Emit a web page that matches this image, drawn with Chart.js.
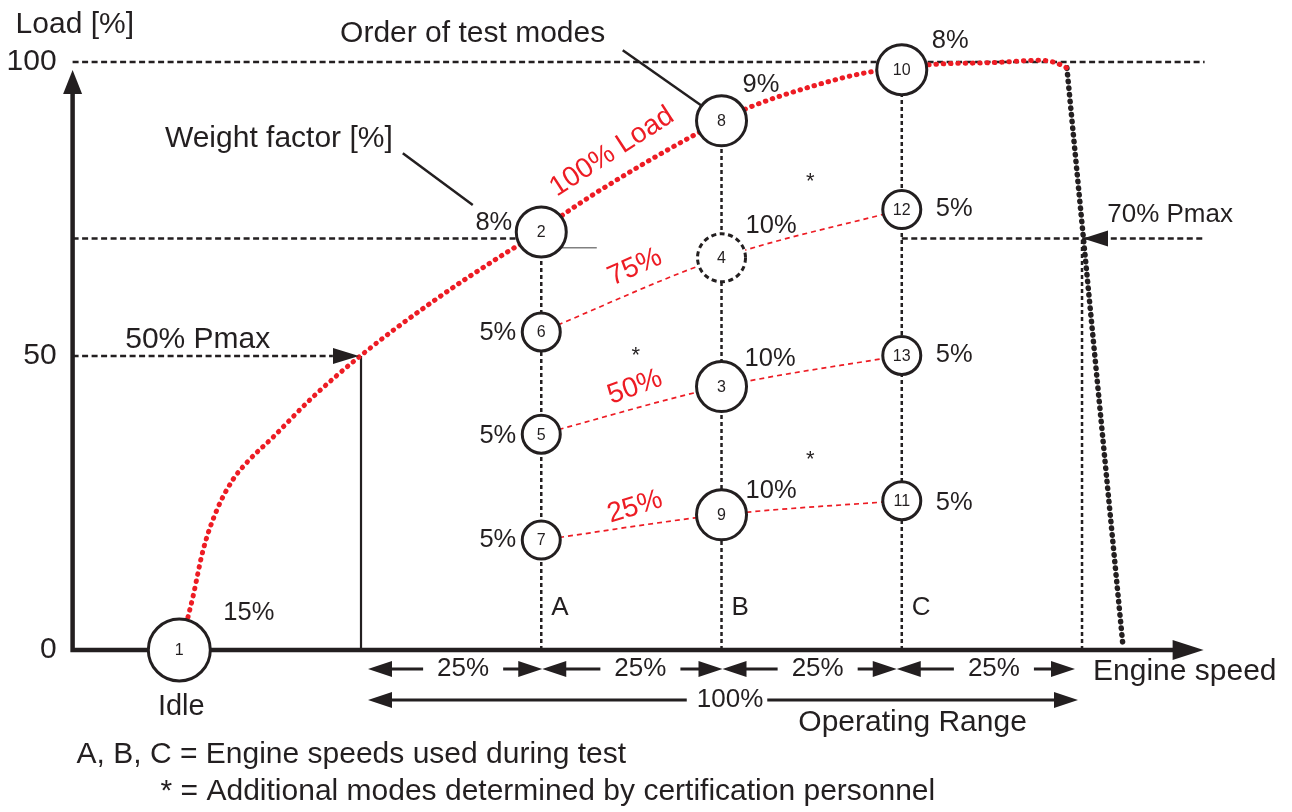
<!DOCTYPE html>
<html><head><meta charset="utf-8">
<script src="https://cdn.jsdelivr.net/npm/chart.js@4.4.0/dist/chart.umd.min.js"></script>
<style>html,body{margin:0;padding:0;background:#fff;}#wrap{width:1292px;height:812px;}</style>
</head><body><div id="wrap"><canvas id="c" width="1292" height="812"></canvas></div>
<script>
// ---------------- data (engine speed in % of operating range, load in %) ----------------
const modeNumbers = [1, 2, 3, 4, 5, 6, 7, 8, 9, 10, 11, 12, 13];
const modeSpeed   = [-25.2, 25, 50, 50, 25, 25, 25, 50, 50, 75, 75, 75, 75];
const modeLoad    = [0, 71.1, 44.8, 66.7, 36.7, 54.1, 18.7, 90.0, 23.0, 98.7, 25.4, 74.9, 50.1];
const modeWeight  = ['15%', '8%', '10%', '10%', '5%', '5%', '5%', '9%', '10%', '8%', '5%', '5%', '5%'];

const fullLoadSpeed = [-24.0, -23.3, -21.9, -20.0, -17.8, -15.9, -12.2, -6.7, 0, 10, 20.7, 25, 28, 37.3, 46.7, 50, 53.7, 62.1, 70.6, 75, 78.6, 87.7, 94.2, 96.5, 97.9];
const fullLoadValue = [5.6, 9.1, 17.0, 23.8, 28.9, 31.8, 36.2, 43.0, 50.1, 59.3, 68.0, 71.1, 74.0, 81.3, 87.9, 90.0, 92.2, 95.7, 98.3, 98.8, 99.5, 99.9, 100.3, 99.8, 99.0];

const dropSpeed = [97.9, 105.7];
const dropLoad  = [99.0, 0.4];

const partialLoadNames = ['75%', '50%', '25%'];
const partialLoadModes = [[6, 4, 12], [5, 3, 13], [7, 9, 11]];

const testSpeedNames = ['A', 'B', 'C'];
const testSpeeds     = [25, 50, 75];
const rangeSplits    = [0, 25, 50, 75, 100];
const loadTicks      = [0, 50, 100];

const extraModeSpeed = [62.3, 38.1, 62.3];
const extraModeLoad  = [80.8, 51.2, 33.5];

const pmaxLoads = [50, 70];
const xMin = -40, xMax = 117;

// ---------------- styling ----------------
const FONT = '"Liberation Sans", Arial, Helvetica, sans-serif';
const INK = '#231f20';
const RED = '#ed1c24';
const smallModes = [5, 6, 7, 11, 12, 13];
const weightPos = { // dx, dy (px), align
  1: [44, -30, 'left'], 2: [-29, -2, 'right'], 3: [23, -21, 'left'], 4: [24, -25, 'left'],
  5: [-25, 9, 'right'], 6: [-25, 8, 'right'], 7: [-25, 7, 'right'], 8: [21, -29, 'left'],
  9: [24, -17, 'left'], 10: [30, -22, 'left'], 11: [34, 9, 'left'], 12: [34, 6, 'left'], 13: [34, 7, 'left']
};

const pt = (xs, ys) => xs.map((x, i) => ({ x: x, y: ys[i] }));
const modeIdx = m => modeNumbers.indexOf(m);

function lineSet(data, color, width, dash, extra) {
  return Object.assign({
    data: data, showLine: true, borderColor: color, borderWidth: width, borderDash: dash || [],
    pointRadius: 0, pointHoverRadius: 0, fill: false, clip: false, tension: 0
  }, extra || {});
}

const datasets = [];
// test mode circles (top-most)
datasets.push({
  data: pt(modeSpeed, modeLoad), showLine: false, clip: false,
  pointRadius: c => { const m = modeNumbers[c.dataIndex]; return m === 1 ? 31 : (smallModes.includes(m) ? 19 : 25); },
  pointHoverRadius: c => { const m = modeNumbers[c.dataIndex]; return m === 1 ? 31 : (smallModes.includes(m) ? 19 : 25); },
  pointBackgroundColor: '#ffffff', pointBorderColor: INK,
  pointBorderWidth: c => modeNumbers[c.dataIndex] === 4 ? 0 : 3
});
// full load curve
datasets.push(lineSet(pt(fullLoadSpeed, fullLoadValue), RED, 5, [0.5, 6.8], { borderCapStyle: 'round', cubicInterpolationMode: 'monotone' }));
// full load drop-off
datasets.push(lineSet(pt(dropSpeed, dropLoad), INK, 5.5, [0.5, 6.2], { borderCapStyle: 'round' }));
// partial load curves
partialLoadModes.forEach(ms => {
  datasets.push(lineSet(ms.map(m => ({ x: modeSpeed[modeIdx(m)], y: modeLoad[modeIdx(m)] })), RED, 1.7, [5, 4], { cubicInterpolationMode: 'monotone' }));
});
// vertical speed lines A, B, C
testSpeeds.forEach(s => {
  const top = Math.max(...modeLoad.filter((v, i) => modeSpeed[i] === s));
  datasets.push(lineSet([{ x: s, y: 0 }, { x: s, y: top }], INK, 2.5, [4, 3]));
});
// 100 % speed line down from 70 % Pmax
datasets.push(lineSet([{ x: rangeSplits[4], y: 0 }, { x: rangeSplits[4], y: pmaxLoads[1] }], INK, 2.5, [4, 3]));
// 100 % load horizontal
datasets.push(lineSet([{ x: xMin, y: 100 }, { x: xMax, y: 100 }], INK, 2.5, [6, 3.5]));
// 70 % Pmax horizontals
datasets.push(lineSet([{ x: xMin, y: pmaxLoads[1] }, { x: testSpeeds[0], y: pmaxLoads[1] }], INK, 2.5, [6, 3.5]));
datasets.push(lineSet([{ x: testSpeeds[2], y: pmaxLoads[1] }, { x: xMax, y: pmaxLoads[1] }], INK, 2.5, [6, 3.5]));
// 50 % Pmax horizontal and its solid drop line
datasets.push(lineSet([{ x: xMin, y: pmaxLoads[0] }, { x: -3.9, y: pmaxLoads[0] }], INK, 2.5, [6, 3.5]));
datasets.push(lineSet([{ x: rangeSplits[0], y: 0 }, { x: rangeSplits[0], y: pmaxLoads[0] }], INK, 2.2, []));
// small grey stub next to mode 2
datasets.push(lineSet([{ x: 25, y: 68.4 }, { x: 32.7, y: 68.4 }], '#808080', 1.5, []));

// ---------------- drawing helpers ----------------
function txt(ctx, s, x, y, size, opt) {
  opt = opt || {};
  ctx.save();
  ctx.font = size + 'px ' + FONT;
  ctx.fillStyle = opt.color || INK;
  ctx.textAlign = opt.align || 'left';
  ctx.textBaseline = opt.base || 'alphabetic';
  if (opt.rot) { ctx.translate(x, y); ctx.rotate(opt.rot * Math.PI / 180); ctx.fillText(s, 0, 0); }
  else ctx.fillText(s, x, y);
  ctx.restore();
}
function head(ctx, tx, ty, dir, len, half) {
  ctx.save();
  ctx.beginPath();
  if (dir === 'l') { ctx.moveTo(tx, ty); ctx.lineTo(tx + len, ty - half); ctx.lineTo(tx + len, ty + half); }
  else if (dir === 'r') { ctx.moveTo(tx, ty); ctx.lineTo(tx - len, ty - half); ctx.lineTo(tx - len, ty + half); }
  else { ctx.moveTo(tx, ty); ctx.lineTo(tx - half, ty + len); ctx.lineTo(tx + half, ty + len); }
  ctx.closePath(); ctx.fillStyle = INK; ctx.fill();
  ctx.restore();
}
function seg(ctx, x1, y1, x2, y2, w) {
  ctx.save();
  ctx.strokeStyle = INK; ctx.lineWidth = w; ctx.setLineDash([]);
  ctx.beginPath(); ctx.moveTo(x1, y1); ctx.lineTo(x2, y2); ctx.stroke();
  ctx.restore();
}
function dimArrow(ctx, a, b, y, label, shift, gapL, gapR) {
  ctx.save();
  ctx.font = '26px ' + FONT;
  const w = ctx.measureText(label).width;
  ctx.restore();
  const c = (a + b) / 2 + shift;
  head(ctx, a, y, 'l', 24, 8);
  head(ctx, b, y, 'r', 24, 8);
  seg(ctx, a + 20, y, c - w / 2 - gapL, y, 3);
  seg(ctx, c + w / 2 + gapR, y, b - 20, y, 3);
  txt(ctx, label, c, y, 26, { align: 'center', base: 'middle' });
}

const annotate = {
  id: 'annotate',
  beforeDatasetsDraw(chart) {
    const ctx = chart.ctx, X = chart.scales.x, Y = chart.scales.y, ca = chart.chartArea;
    const x0 = X.getPixelForValue(xMin), y0 = Y.getPixelForValue(0);
    // axes
    ctx.save();
    ctx.strokeStyle = INK; ctx.lineWidth = 4.5; ctx.lineJoin = 'miter';
    ctx.beginPath();
    ctx.moveTo(x0, ca.top + 30);
    ctx.lineTo(x0, y0);
    ctx.lineTo(ca.right - 30, y0);
    ctx.stroke();
    ctx.restore();
    head(ctx, x0, ca.top + 8, 'u', 24, 9.5);
    head(ctx, ca.right - 1, y0, 'r', 31, 10);
  },
  afterDatasetsDraw(chart) {
    const ctx = chart.ctx, X = chart.scales.x, Y = chart.scales.y;
    const px = v => X.getPixelForValue(v), py = v => Y.getPixelForValue(v);
    const meta = chart.getDatasetMeta(0);
    const x0 = px(xMin), y0 = py(0);

    // dashed circle for mode 4
    const e4 = meta.data[modeIdx(4)];
    ctx.save();
    ctx.strokeStyle = INK; ctx.lineWidth = 3; ctx.setLineDash([5, 3.5]);
    ctx.beginPath(); ctx.arc(e4.x, e4.y, 24, 0, Math.PI * 2); ctx.stroke();
    ctx.restore();

    // mode numbers and weight factors
    modeNumbers.forEach((m, i) => {
      const e = meta.data[i];
      txt(ctx, String(m), e.x, e.y + 1, 16, { align: 'center', base: 'middle' });
      const p = weightPos[m];
      txt(ctx, modeWeight[i], e.x + p[0], e.y + p[1], 25.5, { align: p[2] });
    });

    // additional modes
    extraModeSpeed.forEach((s, i) => txt(ctx, '*', px(s), py(extraModeLoad[i]) + 13, 22, { align: 'center' }));

    // y ticks
    loadTicks.forEach(v => txt(ctx, String(v), x0 - 16, py(v), 30, { align: 'right', base: 'middle' }));
    txt(ctx, 'Load [%]', x0 - 57, py(100) - 29, 30);

    // speed letters
    testSpeeds.forEach((s, i) => txt(ctx, testSpeedNames[i], px(s) + 10, y0 - 35, 26));

    // red load labels
    txt(ctx, '100% Load', px(34.8), py(84.7), 28, { align: 'center', base: 'middle', color: RED, rot: -33 });
    const redRot = [-24, -20, -17], redY = [65.1, 44.7, 24.3];
    partialLoadNames.forEach((n, i) => txt(ctx, n, px(38.0), py(redY[i]), 28, { align: 'center', base: 'middle', color: RED, rot: redRot[i] }));

    // callouts
    txt(ctx, 'Order of test modes', px(-2.9), py(100) - 20, 30);
    seg(ctx, px(36.3), py(102.0), px(47.3), py(92.5), 2.5);
    txt(ctx, 'Weight factor [%]', px(-27.2), py(85.5), 30);
    seg(ctx, px(5.8), py(84.5), px(15.5), py(75.7), 2.5);

    // Pmax arrows
    txt(ctx, '50% Pmax', px(-32.7), py(pmaxLoads[0]) - 8, 30);
    head(ctx, px(0) - 2, py(pmaxLoads[0]), 'r', 26, 8);
    txt(ctx, '70% Pmax', px(103.5), py(pmaxLoads[1]) - 16, 26);
    head(ctx, px(100) + 1, py(pmaxLoads[1]), 'l', 25, 8);

    // idle & axis title
    const e1 = meta.data[modeIdx(1)];
    txt(ctx, 'Idle', e1.x + 2, y0 + 65, 29, { align: 'center' });
    txt(ctx, 'Engine speed', px(100) + 11, y0 + 30, 30);

    // operating range dimension arrows
    const rowY1 = y0 + 19, rowY2 = y0 + 50;
    for (let i = 0; i < rangeSplits.length - 1; i++) {
      let a = px(rangeSplits[i]) + 1, b = px(rangeSplits[i + 1]) + 1;
      if (i === 0) a = px(rangeSplits[i]) + 7;
      if (i === 2) b = px(rangeSplits[i + 1]) - 5;
      if (i === 3) { a = px(rangeSplits[i]) - 5; b = px(rangeSplits[i + 1]) - 7; }
      dimArrow(ctx, a, b, rowY1, '25%', 8, 14, 14);
    }
    dimArrow(ctx, px(rangeSplits[0]) + 7, px(rangeSplits[4]) - 4, rowY2, '100%', 7, 10, 4);
    txt(ctx, 'Operating Range', px(76.5), y0 + 81, 30, { align: 'center' });

    // footnotes
    txt(ctx, 'A, B, C = Engine speeds used during test', x0 + 4, y0 + 113, 30);
    txt(ctx, '* = Additional modes determined by certification personnel', x0 + 88, y0 + 150, 30);
  }
};

new Chart(document.getElementById('c'), {
  type: 'scatter',
  data: { datasets: datasets },
  options: {
    responsive: false, animation: false, events: [],
    layout: { padding: { left: 72.6, right: 87.4, top: 62, bottom: 162 } },
    scales: {
      x: { type: 'linear', min: xMin, max: xMax, display: false },
      y: { type: 'linear', min: 0, max: 100, display: false }
    },
    plugins: { legend: { display: false }, tooltip: { enabled: false }, title: { display: false } }
  },
  plugins: [annotate]
});
</script>
</body></html>
